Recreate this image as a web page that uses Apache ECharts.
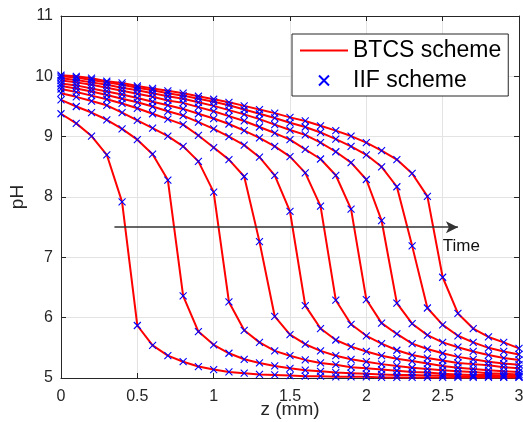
<!DOCTYPE html>
<html>
<head>
<meta charset="utf-8">
<script src="https://cdn.jsdelivr.net/npm/echarts@6/dist/echarts.min.js"></script>
<style>html,body{margin:0;padding:0;background:#fff}#c{width:523px;height:422px}</style>
</head>
<body>
<div id="c"></div>
<script>
// z positions (mm)
const zValues = [0,0.1,0.2,0.3,0.4,0.5,0.6,0.7,0.8,0.9,1.0,1.1,1.2,1.3,1.4,1.5,1.6,1.7,1.8,1.9,2.0,2.1,2.2,2.3,2.4,2.5,2.6,2.7,2.8,2.9,3.0];
// pH profiles at successive times
const pH1  = [9.38,9.22,9.01,8.70,7.92,5.87,5.54,5.37,5.27,5.19,5.14,5.10,5.08,5.06,5.05,5.04,5.03,5.03,5.02,5.02,5.02,5.01,5.01,5.01,5.01,5.01,5.01,5.01,5.01,5.01,5.01];
const pH2  = [9.61,9.50,9.40,9.28,9.13,8.95,8.71,8.28,6.36,5.77,5.55,5.41,5.31,5.25,5.20,5.16,5.13,5.11,5.09,5.08,5.07,5.06,5.05,5.05,5.04,5.04,5.03,5.03,5.03,5.02,5.02];
const pH3  = [9.72,9.66,9.59,9.52,9.40,9.27,9.14,9.01,8.84,8.59,8.08,6.26,5.79,5.59,5.45,5.37,5.30,5.25,5.22,5.18,5.16,5.14,5.12,5.10,5.09,5.07,5.06,5.05,5.05,5.04,5.03];
const pH4  = [9.79,9.74,9.68,9.62,9.55,9.47,9.38,9.29,9.20,9.02,8.82,8.62,8.34,7.26,6.02,5.72,5.56,5.45,5.37,5.31,5.27,5.23,5.20,5.17,5.15,5.13,5.11,5.10,5.08,5.07,5.06];
const pH5  = [9.84,9.80,9.75,9.69,9.63,9.57,9.50,9.42,9.35,9.24,9.13,9.00,8.86,8.66,8.36,7.76,6.20,5.82,5.63,5.52,5.44,5.37,5.32,5.28,5.24,5.20,5.17,5.15,5.13,5.11,5.10];
const pH6  = [9.88,9.85,9.80,9.75,9.70,9.64,9.58,9.52,9.46,9.38,9.30,9.21,9.10,8.98,8.84,8.67,8.40,7.85,6.29,5.89,5.70,5.57,5.46,5.38,5.33,5.29,5.25,5.23,5.21,5.18,5.16];
const pH7  = [9.93,9.90,9.86,9.81,9.76,9.71,9.66,9.60,9.56,9.49,9.42,9.34,9.26,9.16,9.06,8.95,8.79,8.63,8.36,7.80,6.30,5.91,5.73,5.57,5.48,5.41,5.35,5.31,5.27,5.24,5.22];
const pH8  = [9.97,9.94,9.90,9.86,9.81,9.77,9.72,9.67,9.63,9.57,9.51,9.44,9.37,9.29,9.20,9.11,9.03,8.90,8.75,8.57,8.29,7.61,6.24,5.90,5.71,5.59,5.51,5.44,5.38,5.33,5.30];
const pH9  = [10.00,9.98,9.94,9.90,9.86,9.81,9.77,9.72,9.68,9.63,9.58,9.52,9.45,9.38,9.31,9.23,9.16,9.07,8.96,8.84,8.70,8.50,8.17,7.19,6.16,5.88,5.70,5.59,5.50,5.44,5.39];
const pH10 = [10.02,10.00,9.97,9.92,9.89,9.84,9.80,9.76,9.72,9.67,9.62,9.57,9.51,9.45,9.39,9.32,9.26,9.18,9.10,9.01,8.90,8.77,8.62,8.39,8.01,6.67,6.07,5.82,5.68,5.59,5.49];
const profiles = [pH1,pH2,pH3,pH4,pH5,pH6,pH7,pH8,pH9,pH10];
// axis ticks
const xTicks = [0,0.5,1,1.5,2,2.5,3];
const yTicks = [5,6,7,8,9,10,11];
// time arrow annotation (data coords)
const arrowFrom = [0.35, 7.5];
const arrowTo = [2.6, 7.5];
const timeLabelAt = [2.5, 7.19];

const FONT = 'Liberation Sans, Arial, Helvetica, sans-serif';
const AX = '#262626';
const xMark = 'path://M0,0L10,10M10,0L0,10';

const series = [];
profiles.forEach(p => {
  series.push({
    name: 'BTCS scheme', type: 'line', symbol: 'none', silent: true,
    data: zValues.map((z, i) => [z, p[i]]),
    lineStyle: { color: '#ff0000', width: 2 }, itemStyle: { color: '#ff0000' },
    z: 2
  });
});
profiles.forEach(p => {
  series.push({
    name: 'IIF scheme', type: 'scatter', symbol: xMark, symbolSize: 7, silent: true,
    data: zValues.map((z, i) => [z, p[i]]),
    itemStyle: { color: 'rgba(0,0,0,0)', borderColor: '#0000ff', borderWidth: 1.1, opacity: 1 },
    z: 3
  });
});
series.push({
  name: 'arrow', type: 'line', data: [], silent: true,
  markLine: {
    silent: true, symbol: ['none', 'arrow'], symbolSize: [9, 12],
    lineStyle: { color: '#333', width: 1.5, type: 'solid' },
    label: { show: false },
    data: [[{ coord: arrowFrom }, { coord: arrowTo }]]
  },
  markPoint: {
    silent: true, symbol: 'circle', symbolSize: 0.1,
    itemStyle: { color: 'rgba(0,0,0,0)' },
    label: { show: true, position: 'right', distance: 0, formatter: 'Time', color: '#111', fontSize: 17, fontFamily: FONT },
    data: [{ coord: timeLabelAt }]
  }
});

const baseAxis = {
  axisLine: { show: true, onZero: false, lineStyle: { color: AX, width: 1 } },
  axisTick: { show: true, inside: true, length: 5, lineStyle: { color: AX } },
};

const chart = echarts.init(document.getElementById('c'), null, { renderer: 'canvas' });
chart.setOption({
  animation: false,
  backgroundColor: '#fff',
  grid: { left: 61, right: 4, top: 16, bottom: 44, containLabel: false, outerBoundsMode: 'none' },
  legend: {
    data: [
      { name: 'BTCS scheme', icon: 'path://M0,4L48,4L48,6L0,6Z', itemStyle: { color: '#ff0000' } },
      { name: 'IIF scheme' }
    ],
    left: 292, top: 34, orient: 'vertical',
    backgroundColor: '#fff', borderColor: AX, borderWidth: 1,
    padding: [5, 7, 4, 8], itemGap: 7, itemWidth: 48, itemHeight: 10,
    textStyle: { fontSize: 23, fontFamily: FONT, color: '#000' },
    selectedMode: false
  },
  xAxis: [
    Object.assign({}, baseAxis, {
      type: 'value', min: xTicks[0], max: xTicks[xTicks.length - 1], interval: 0.5,
      name: 'z (mm)', nameLocation: 'middle', nameGap: 22, nameMoveOverlap: false,
      nameTextStyle: { fontSize: 19, fontFamily: FONT, color: AX },
      axisLabel: { fontSize: 16, fontFamily: FONT, color: AX, margin: 11 },
      splitLine: { show: true, lineStyle: { color: '#e3e3e3', width: 1 } }
    }),
    Object.assign({}, baseAxis, {
      type: 'value', position: 'top', min: xTicks[0], max: xTicks[xTicks.length - 1], interval: 0.5,
      axisLabel: { show: false }, splitLine: { show: false }
    })
  ],
  yAxis: [
    Object.assign({}, baseAxis, {
      type: 'value', min: yTicks[0], max: yTicks[yTicks.length - 1], interval: 1,
      name: 'pH', nameLocation: 'middle', nameGap: 34, nameRotate: 90, nameMoveOverlap: false,
      nameTextStyle: { fontSize: 19, fontFamily: FONT, color: AX },
      axisLabel: { fontSize: 16, fontFamily: FONT, color: AX, margin: 8 },
      splitLine: { show: true, lineStyle: { color: '#e3e3e3', width: 1 } }
    }),
    Object.assign({}, baseAxis, {
      type: 'value', position: 'right', min: yTicks[0], max: yTicks[yTicks.length - 1], interval: 1,
      axisLabel: { show: false }, splitLine: { show: false }
    })
  ],
  series: series
});
</script>
</body>
</html>
